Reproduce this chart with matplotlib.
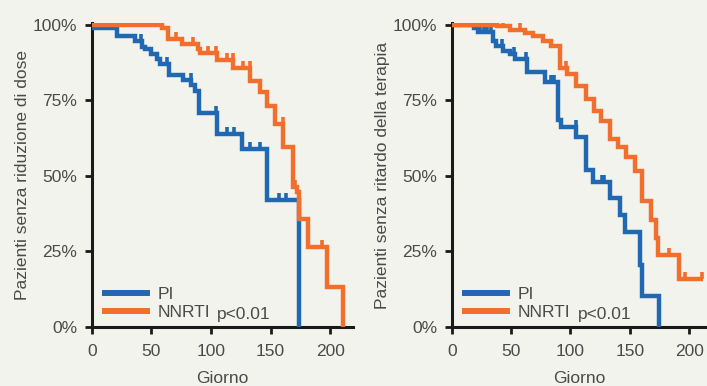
import numpy as np
import matplotlib.pyplot as plt

# --- panel 1: dose reduction ---
pi1_t = [0, 20.7, 36, 41.7, 44.5, 50, 54.3, 57, 64.5, 76.5, 83.5, 86.5, 90.2, 104.7, 125.7, 146.7, 174.2]
pi1_s = [98.9, 96.4, 94.7, 92.8, 92.0, 90.3, 88.7, 87.0, 83.5, 81.7, 80.0, 78.2, 71.0, 63.9, 59.0, 42.1, 0]
pi1_end = 174.2
pi1_cens = [41.5, 63.2, 83.3, 104.5, 113, 119.3, 133, 141, 157.4, 163]

nn1_t = [0, 58.5, 64, 76, 89, 91, 104.7, 118.6, 132.7, 141, 146.7, 153.7, 160.7, 169, 172, 174.2, 181.8, 197, 211]
nn1_s = [100, 98.9, 95.3, 93.6, 92.0, 90.6, 88.3, 85.9, 81.5, 77.7, 73.3, 67.2, 59.7, 46.5, 44.6, 35.9, 26.5, 13.1, 0]
nn1_end = 211
nn1_cens = [71, 84.5, 97.7, 104.4, 113, 118.3, 126.5, 132.5, 160.5, 170.6, 193]

# --- panel 2: therapy delay ---
pi2_t = [0, 18.5, 22, 34.8, 37, 43, 49, 53, 63.5, 78.4, 89.6, 92, 105, 112.7, 119, 133.7, 141.6, 145.8, 158.5, 160, 174.7]
pi2_s = [100, 99.0, 97.7, 94.7, 93.0, 91.4, 90.3, 88.7, 84.3, 81.0, 68.6, 66.2, 63.0, 52.0, 48.1, 42.7, 37.2, 31.6, 20.6, 10.2, 0]
pi2_end = 174.7
pi2_cens = [24, 27, 30, 33, 41.9, 52, 62.4, 84, 86, 104.5, 126.5, 128.5]

nn2_t = [0, 37.7, 49, 61.5, 68.5, 77, 84, 91, 96.7, 105, 112.7, 119.7, 126, 133, 140, 147, 154, 160.5,
         168.2, 172.4, 173.5, 191.6]
nn2_s = [100, 99.5, 98.5, 97.5, 96.4, 94.7, 93.0, 85.9, 83.7, 79.9, 75.5, 71.6, 68.3, 62.3, 59.5, 56.2, 51.8,
         41.6, 35.5, 29.4, 23.8, 15.8]
nn2_end = 211.8
nn2_cens = [43.3, 57.3, 96.5, 183, 196.4, 210.5]

days_ticks = [0, 50, 100, 150, 200]
pct_ticks = [0, 25, 50, 75, 100]
pct_labels = ["0%", "25%", "50%", "75%", "100%"]

BLUE = "#2068b2"
ORANGE = "#f26e2c"
TXT = "#4a4a4a"
BG = "#f3f3ee"
FS = 12.5

plt.rcParams["font.family"] = ["Liberation Sans", "DejaVu Sans"]


def survival_at(t, times, surv):
    idx = np.searchsorted(times, t, side="right") - 1
    return np.asarray(surv)[idx]


def km(ax, times, surv, end, cens, color):
    t = list(times) + [end]
    s = list(surv) + [surv[-1]]
    ax.step(t, s, where="post", color=color, lw=3.2, solid_joinstyle="miter",
            solid_capstyle="butt", zorder=3)
    c = np.array(cens)
    y = survival_at(c, times, surv)
    ax.vlines(c, y, y + 2.3, color=color, lw=2.6, zorder=3)


def style(ax, xmax, ylabel, px):
    ax.set_facecolor("none")
    ax.set_xlim(0, xmax)
    ax.set_ylim(0, 100.6)
    for side in ["top", "right"]:
        ax.spines[side].set_visible(False)
    for side in ["left", "bottom"]:
        ax.spines[side].set_linewidth(2.2)
        ax.spines[side].set_color("#1a1a1a")
    ax.set_xticks(days_ticks)
    ax.set_yticks(pct_ticks)
    ax.set_yticklabels(pct_labels)
    ax.tick_params(direction="out", length=5, width=2, color="#1a1a1a",
                   labelsize=FS, labelcolor=TXT)
    ax.tick_params(axis="y", pad=5.5)
    ax.tick_params(axis="x", pad=7)
    ax.set_xlabel("Giorno", fontsize=FS, color=TXT, labelpad=9)
    ax.set_ylabel(ylabel, fontsize=FS, color=TXT, labelpad=2)
    ax.legend(loc="lower left", bbox_to_anchor=(0.052, 0.022), frameon=False,
              borderpad=0, borderaxespad=0, handlelength=2.4, handletextpad=0.6,
              labelspacing=0.2, fontsize=FS, labelcolor=TXT)
    ax.text(px, 0.04, "p<0.01", transform=ax.transAxes, fontsize=FS, color=TXT,
            ha="left", va="center")


fig = plt.figure(figsize=(7.07, 3.86), dpi=100)
fig.patch.set_facecolor(BG)

ax1 = fig.add_axes([0.130, 0.153, 0.369, 0.787])
ax1.plot([], [], color=BLUE, lw=4.3, label="PI")
ax1.plot([], [], color=ORANGE, lw=4.3, label="NNRTI")
km(ax1, pi1_t, pi1_s, pi1_end, pi1_cens, BLUE)
km(ax1, nn1_t, nn1_s, nn1_end, nn1_cens, ORANGE)
style(ax1, 219, "Pazienti senza riduzione di dose", 0.479)

ax2 = fig.add_axes([0.639, 0.153, 0.361, 0.787])
ax2.plot([], [], color=BLUE, lw=4.3, label="PI")
ax2.plot([], [], color=ORANGE, lw=4.3, label="NNRTI")
km(ax2, pi2_t, pi2_s, pi2_end, pi2_cens, BLUE)
km(ax2, nn2_t, nn2_s, nn2_end, nn2_cens, ORANGE)
style(ax2, 215, "Pazienti senza ritardo della terapia", 0.494)

fig.savefig("out.png", dpi=100, facecolor=BG)
